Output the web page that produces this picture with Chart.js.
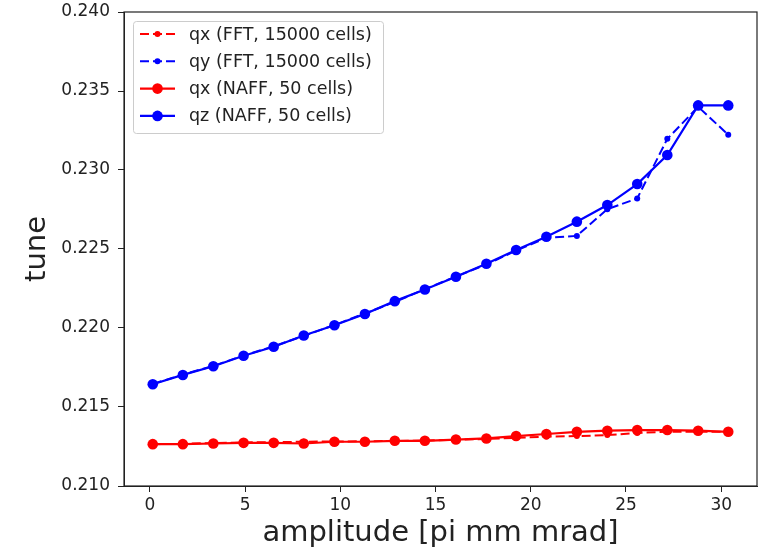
<!DOCTYPE html>
<html>
<head>
<meta charset="utf-8">
<script src="https://cdn.jsdelivr.net/npm/chart.js@4"></script>
<style>
  html, body { margin: 0; padding: 0; background: #fff; }
  #wrap { width: 767px; height: 551px; }
</style>
</head>
<body>
<div id="wrap"><canvas id="chartId"></canvas></div>
<script>
// amplitude values (x)
var amplitude = [0.15, 1.73, 3.33, 4.92, 6.50, 8.08, 9.69, 11.29, 12.86, 14.44,
                 16.07, 17.67, 19.23, 20.82, 22.42, 24.02, 25.59, 27.17, 28.79, 30.37];
// tunes
var qxFFT  = [0.21265, 0.21267, 0.21272, 0.21276, 0.21278, 0.21280, 0.21282, 0.21283, 0.21285, 0.21288,
              0.21292, 0.21298, 0.21305, 0.21312, 0.21316, 0.21322, 0.21336, 0.21343, 0.21343, 0.21343];
var qyFFT  = [0.21646, 0.21705, 0.21760, 0.21826, 0.21884, 0.21950, 0.22019, 0.22092, 0.22165, 0.22246,
              0.22326, 0.22402, 0.22490, 0.22570, 0.22583, 0.22752, 0.22820, 0.23197, 0.23400, 0.23223];
var qxNAFF = [0.21265, 0.21265, 0.21269, 0.21273, 0.21273, 0.21269, 0.21280, 0.21280, 0.21286, 0.21286,
              0.21294, 0.21301, 0.21316, 0.21329, 0.21343, 0.21350, 0.21354, 0.21354, 0.21350, 0.21343];
var qzNAFF = [0.21644, 0.21703, 0.21758, 0.21824, 0.21881, 0.21953, 0.22017, 0.22089, 0.22170, 0.22244,
              0.22324, 0.22407, 0.22494, 0.22578, 0.22673, 0.22778, 0.22911, 0.23095, 0.23409, 0.23409];
var xTicks = [0, 5, 10, 15, 20, 25, 30];
var yTicks = [0.210, 0.215, 0.220, 0.225, 0.230, 0.235, 0.240];

function pts(ys) {
  return ys.map(function (y, i) { return {x: amplitude[i], y: y}; });
}

var font = 'DejaVu Sans';
var ink = '#222';

function fftSet(label, color, ys, order) {
  return {
    label: label, data: pts(ys), borderColor: color, backgroundColor: color,
    borderWidth: 2, borderDash: [9, 4], pointRadius: 3, pointBorderWidth: 0,
    order: order
  };
}
function naffSet(label, color, ys, order) {
  return {
    label: label, data: pts(ys), borderColor: color, backgroundColor: color,
    borderWidth: 2.2, pointRadius: 5.3, pointBorderWidth: 0, order: order
  };
}

// frame + matplotlib style legend
var framePlugin = {
  id: 'frame',
  afterDraw: function (chart) {
    var ctx = chart.ctx, a = chart.chartArea;
    ctx.save();
    ctx.strokeStyle = ink;
    ctx.lineWidth = 1.2;
    ctx.strokeRect(a.left, a.top, a.right - a.left, a.bottom - a.top);

    // legend box
    var bx = a.left + 9.5, by = a.top + 9.5, bw = 250, bh = 112;
    ctx.fillStyle = 'rgba(255,255,255,0.8)';
    ctx.strokeStyle = '#ccc';
    ctx.lineWidth = 1;
    ctx.beginPath();
    ctx.roundRect(bx, by, bw, bh, 3);
    ctx.fill();
    ctx.stroke();

    ctx.font = '17.5px "' + font + '"';
    ctx.textBaseline = 'middle';
    chart.data.datasets.forEach(function (ds, i) {
      var y = a.top + 22 + i * 27.3;
      ctx.strokeStyle = ds.borderColor;
      ctx.fillStyle = ds.borderColor;
      ctx.lineWidth = ds.borderWidth;
      ctx.setLineDash(ds.borderDash || []);
      ctx.beginPath();
      ctx.moveTo(a.left + 16, y);
      ctx.lineTo(a.left + 51, y);
      ctx.stroke();
      ctx.setLineDash([]);
      ctx.beginPath();
      ctx.arc(a.left + 33.5, y, ds.pointRadius, 0, Math.PI * 2);
      ctx.fill();
      ctx.fillStyle = ink;
      ctx.fillText(ds.label, a.left + 65, y + 1);
    });
    ctx.restore();
  }
};

var chrt = document.getElementById('chartId').getContext('2d');
var chartId = new Chart(chrt, {
  type: 'line',
  data: {
    datasets: [
      fftSet('qx (FFT, 15000 cells)', '#ff0000', qxFFT, 4),
      fftSet('qy (FFT, 15000 cells)', '#0000ff', qyFFT, 3),
      naffSet('qx (NAFF, 50 cells)', '#ff0000', qxNAFF, 2),
      naffSet('qz (NAFF, 50 cells)', '#0000ff', qzNAFF, 1)
    ]
  },
  options: {
    responsive: true,
    maintainAspectRatio: false,
    animation: false,
    layout: { padding: { left: 0, right: 10, top: 12, bottom: 0 } },
    plugins: { legend: { display: false }, tooltip: { enabled: false } },
    scales: {
      x: {
        type: 'linear', min: -1.36, max: 31.88,
        afterBuildTicks: function (s) { s.ticks = xTicks.map(function (v) { return {value: v}; }); },
        afterFit: function (s) { s.height = 65; s.paddingLeft = 0; s.paddingRight = 0; },
        grid: { drawOnChartArea: false, drawTicks: true, tickLength: 6, color: ink },
        border: { display: true, color: ink },
        ticks: { color: ink, font: { family: font, size: 17 }, padding: 3, maxRotation: 0 },
        title: { display: true, text: 'amplitude [pi mm mrad]', color: ink,
                 font: { family: font, size: 29 }, padding: { top: 0, bottom: 0 } }
      },
      y: {
        type: 'linear', min: 0.210, max: 0.240,
        afterBuildTicks: function (s) { s.ticks = yTicks.map(function (v) { return {value: v}; }); },
        afterFit: function (s) { s.width = 124; s.paddingTop = 0; s.paddingBottom = 0; },
        grid: { drawOnChartArea: false, drawTicks: true, tickLength: 6, color: ink },
        border: { display: true, color: ink },
        ticks: { color: ink, font: { family: font, size: 17 }, padding: 8,
                 callback: function (v) { return v.toFixed(3); } },
        title: { display: true, text: 'tune', color: ink,
                 font: { family: font, size: 29 }, padding: { top: 20, bottom: 0 } }
      }
    }
  },
  plugins: [framePlugin]
});
</script>
</body>
</html>
